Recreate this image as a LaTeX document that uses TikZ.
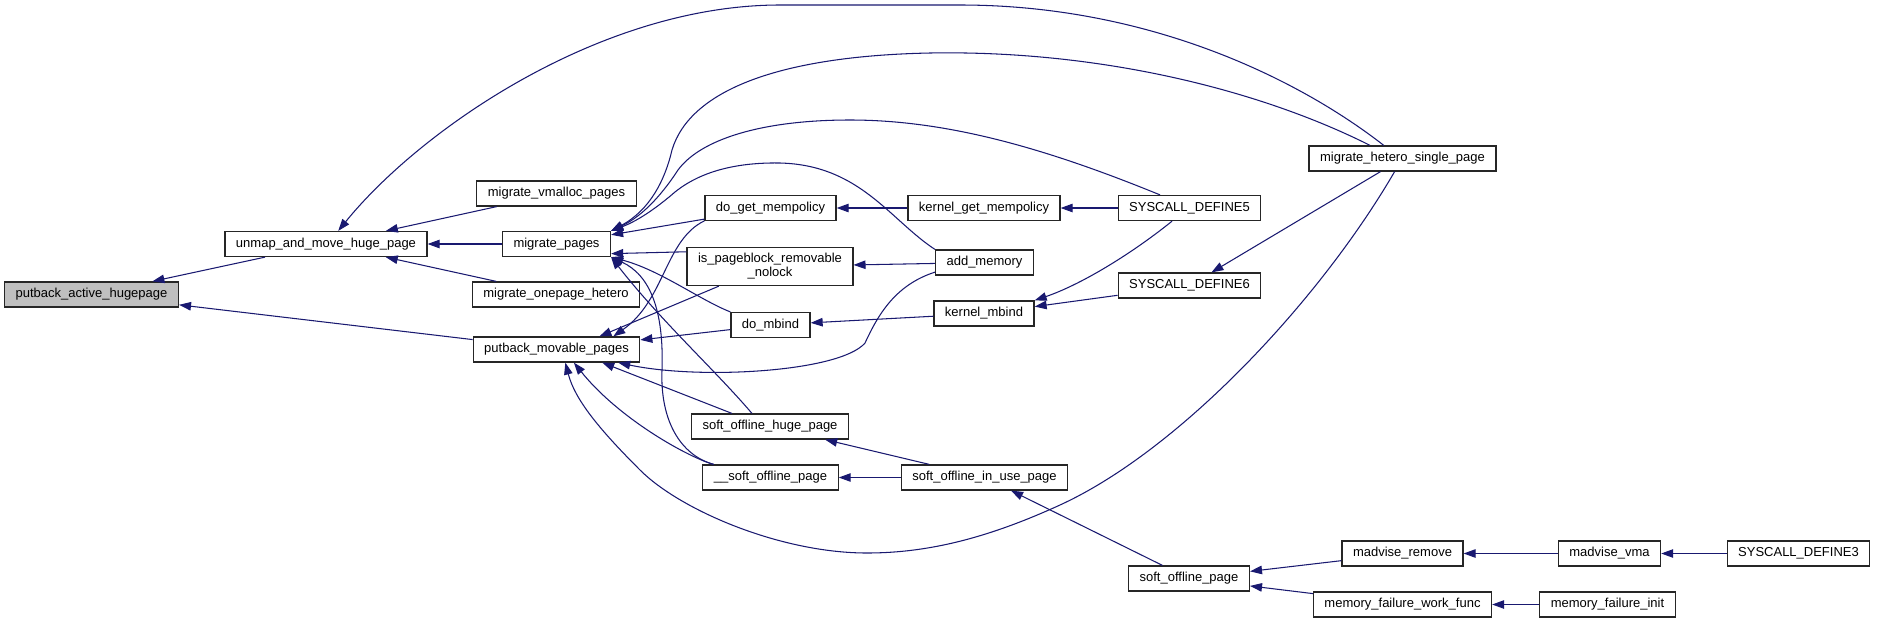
\documentclass[tikz,border=0pt]{standalone}
\usepackage{fontspec}
\setmainfont{Liberation Sans}
\usepackage{tikz}
\usetikzlibrary{arrows.meta}
\definecolor{callblue}{HTML}{191970}
\definecolor{rootgray}{HTML}{BFBFBF}

\begin{document}
\begin{tikzpicture}[x=0.02cm,y=-0.02cm]

\tikzset{
callunit/.style={
draw=black!85,
line width=0.7pt,
fill=white,
minimum height=0.5cm,
inner xsep=0.22cm,
inner ysep=0.12cm,
align=center,
font=\fontsize{7.4}{8}\selectfont
},
rootunit/.style={
callunit,
fill=rootgray
},
callarrow/.style={
draw=callblue,
line width=0.6pt,
-{Triangle[length=0.24cm,width=0.17cm]}
}
}

\useasboundingbox (0,0) rectangle (1877,623);

%--------------------------------------------------
% ROOT AND FIRST CALLERS
%--------------------------------------------------

\node[rootunit] (activehp) at (91.5,294.5)
{putback\_active\_hugepage};

\node[callunit] (unmapmove) at (326,244)
{unmap\_and\_move\_huge\_page};

\node[callunit] (vmalloc) at (556.5,193.5)
{migrate\_vmalloc\_pages};
\node[callunit] (migpages) at (556.5,244)
{migrate\_pages};
\node[callunit] (onepage) at (556,294.5)
{migrate\_onepage\_hetero};
\node[callunit] (movable) at (556.5,349.5)
{putback\_movable\_pages};

%--------------------------------------------------
% MIDDLE COLUMNS
%--------------------------------------------------

\node[callunit] (getmempol) at (770.5,208)
{do\_get\_mempolicy};
\node[callunit] (pageblock) at (770,266.5)
{is\_pageblock\_removable\\\_nolock};
\node[callunit] (dombind) at (770.5,325)
{do\_mbind};
\node[callunit] (offhuge) at (770,426.5)
{soft\_offline\_huge\_page};
\node[callunit] (offpage) at (770.5,477.5)
{\_\_soft\_offline\_page};

\node[callunit] (kgetmempol) at (984,208)
{kernel\_get\_mempolicy};
\node[callunit] (addmem) at (984.5,262.5)
{add\_memory};
\node[callunit] (kmbind) at (984,313.5)
{kernel\_mbind};
\node[callunit] (inuse) at (984.5,477.5)
{soft\_offline\_in\_use\_page};

%--------------------------------------------------
% RIGHT COLUMNS
%--------------------------------------------------

\node[callunit] (sys5) at (1189.5,208)
{SYSCALL\_DEFINE5};
\node[callunit] (sys6) at (1189.5,285.5)
{SYSCALL\_DEFINE6};
\node[callunit] (softoff) at (1189,578.5)
{soft\_offline\_page};

\node[callunit] (hetero) at (1402.5,158.5)
{migrate\_hetero\_single\_page};
\node[callunit] (madrem) at (1402.5,553.5)
{madvise\_remove};
\node[callunit] (mfwork) at (1402.5,604.5)
{memory\_failure\_work\_func};

\node[callunit] (madvma) at (1609.5,553.5)
{madvise\_vma};
\node[callunit] (mfinit) at (1607.5,604.5)
{memory\_failure\_init};

\node[callunit] (sys3) at (1798.5,553.5)
{SYSCALL\_DEFINE3};

%--------------------------------------------------
% CALLS INTO THE LEFT PART
%--------------------------------------------------

\draw[callarrow] (unmapmove) -- (activehp);
\draw[callarrow] (movable) -- (activehp);

\draw[callarrow] (vmalloc) -- (unmapmove);
\draw[callarrow] (migpages) -- (unmapmove);
\draw[callarrow] (onepage) -- (unmapmove);
\draw[callarrow] (hetero.145) .. controls (1300,80) and (1150,5) .. (960,5)
  -- (780,5) .. controls (600,5) and (420,130) .. (unmapmove.47);

%--------------------------------------------------
% CALLS INTO migrate_pages
%--------------------------------------------------

\draw[callarrow] (hetero.158) .. controls (1260,90) and (1100,50) .. (930,53)
  .. controls (780,56) and (690,90) .. (672,150)
  .. controls (665,180) and (650,210) .. (migpages.north east);
\draw[callarrow] (sys5.156) .. controls (1050,150) and (950,120) .. (850,120)
  .. controls (760,120) and (700,140) .. (678,170)
  .. controls (665,190) and (645,215) .. (migpages.north east);
\draw[callarrow] (addmem.north west) .. controls (890,220) and (860,165) .. (780,163)
  .. controls (720,162) and (690,180) .. (675,192)
  .. controls (660,205) and (640,220) .. (migpages.north east);
\draw[callarrow] (getmempol) -- (migpages);
\draw[callarrow] (pageblock.170) -- (migpages.-10);
\draw[callarrow] (dombind.north west) .. controls (700,300) and (660,270) .. (migpages.south east);
\draw[callarrow] (offhuge.144) .. controls (715,370) and (660,320) .. (migpages.south east);
\draw[callarrow] (offpage.167) .. controls (680,455) and (660,420) .. (662,370)
  .. controls (664,310) and (650,275) .. (migpages.south east);

%--------------------------------------------------
% CALLS INTO putback_movable_pages
%--------------------------------------------------

\draw[callarrow] (hetero.-121) .. controls (1320,300) and (1180,450) .. (1060,505)
  .. controls (990,537) and (930,553) .. (867,553)
  .. controls (780,553) and (680,510) .. (640,470)
  .. controls (600,430) and (575,400) .. (movable.-56);
\draw[callarrow] (offpage.167) .. controls (690,458) and (620,420) .. (movable.-37);
\draw[callarrow] (offhuge.161) -- (movable.-16);
\draw[callarrow] (addmem.191) .. controls (895,285) and (878,315) .. (865,343)
  .. controls (840,372) and (700,380) .. (movable.-12);
\draw[callarrow] (pageblock.201) -- (movable.17);
\draw[callarrow] (getmempol.191) .. controls (665,240) and (665,300) .. (movable.13);
\draw[callarrow] (dombind) -- (movable);

%--------------------------------------------------
% CALLS FURTHER RIGHT
%--------------------------------------------------

\draw[callarrow] (kgetmempol) -- (getmempol);
\draw[callarrow] (addmem) -- (pageblock);
\draw[callarrow] (kmbind) -- (dombind);
\draw[callarrow] (inuse) -- (offhuge);
\draw[callarrow] (inuse) -- (offpage);

\draw[callarrow] (sys5) -- (kgetmempol);
\draw[callarrow] (sys5.-143) .. controls (1130,255) and (1080,285) .. (kmbind.north east);
\draw[callarrow] (sys6) -- (kmbind);
\draw[callarrow] (softoff) -- (inuse);

\draw[callarrow] (hetero) -- (sys6);
\draw[callarrow] (madrem) -- (softoff);
\draw[callarrow] (mfwork) -- (softoff);

\draw[callarrow] (madvma) -- (madrem);
\draw[callarrow] (sys3) -- (madvma);
\draw[callarrow] (mfinit) -- (mfwork);

\end{tikzpicture}
\end{document}
